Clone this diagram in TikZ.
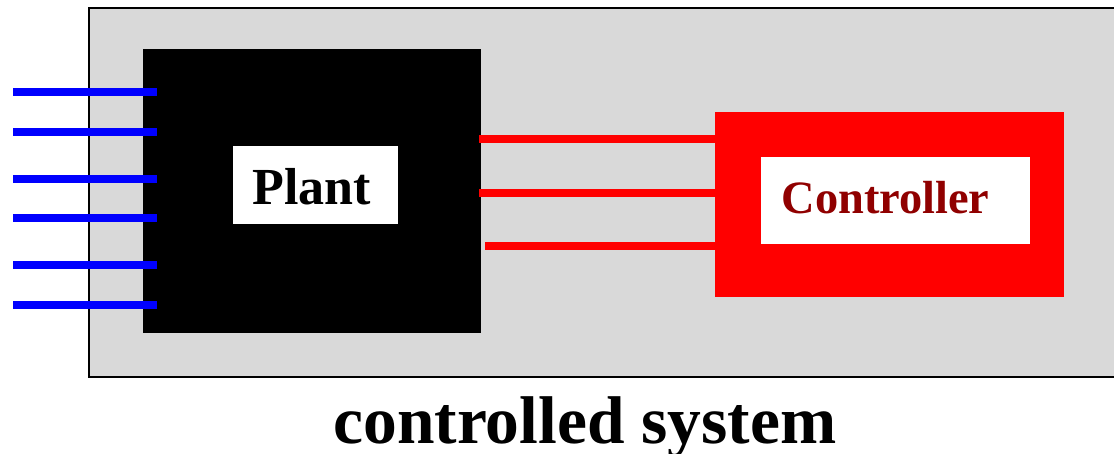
\documentclass[tikz,border=0pt]{standalone}
\usepackage{fontspec}
\setmainfont{Liberation Serif}
\usepackage{tikz}

\definecolor{caixa}{HTML}{D9D9D9}
\definecolor{vermelho}{HTML}{FF0000}
\definecolor{vinho}{HTML}{900000}

\tikzset{
    bloco/.style={rectangle, inner sep=0pt, minimum width=#1},
    fiosaida/.style={line width=2mm, blue},
    fioctrl/.style={line width=2mm, vermelho}
}

\begin{document}
\begin{tikzpicture}[x=0.025cm, y=-0.025cm]

    \clip (0,0) rectangle (1114,454);
    \useasboundingbox (0,0) rectangle (1114,454);

    \draw[fill=caixa, line width=0.4mm] (89,8) rectangle (1130,377);

    \node[bloco=84.5mm, minimum height=71mm, fill=black] (planta) at (312,191) {};
    \node[bloco=41.25mm, minimum height=19.5mm, fill=white] (caixaplanta) at (315.5,185) {};
    \node (textoplanta) at (311.5,187) {\fontsize{37}{43}\selectfont\bfseries Plant};

    \node[bloco=87.25mm, minimum height=46.25mm, fill=vermelho] (controle) at (889.5,204.5) {};
    \node[bloco=67.25mm, minimum height=21.75mm, fill=white] (caixacontrole) at (895.5,200.5) {};
    \node[text=vinho] (textocontrole) at (885.5,198) {\fontsize{33}{39}\selectfont\bfseries Controller};

    \foreach \y/\nome in {
        92/a,
        132/b,
        179/c,
        218/d,
        265/e,
        305/f%
    } {
        \coordinate (saida\nome) at (13,\y);
        \draw[fiosaida] (saida\nome) -- ([xshift=3.5mm]saida\nome -| planta.west);
    }

    \foreach \y/\dx in {
        139/-0.5,
        193/-0.5,
        246/1%
    } {
        \draw[fioctrl] ([xshift=\dx mm]planta.east |- 0,\y) -- (controle.west |- 0,\y);
    }

    \node[anchor=base] (titulo) at (585,443) {\fontsize{48}{56}\selectfont\bfseries controlled system};

\end{tikzpicture}
\end{document}
